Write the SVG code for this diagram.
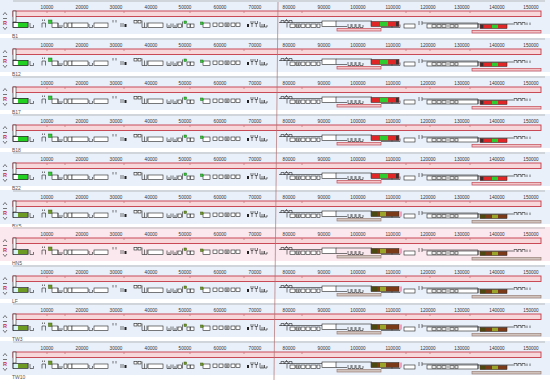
<svg xmlns="http://www.w3.org/2000/svg" xmlns:xlink="http://www.w3.org/1999/xlink" width="550" height="385" viewBox="0 0 550 385">
<style>
text{font-family:"Liberation Sans",Arial,sans-serif}
.tk{font-size:4.6px;fill:#333;text-anchor:middle}
.lb{font-size:5px;fill:#555}
.bx{fill:#fff;stroke:#222;stroke-width:0.6}
.ln{fill:none;stroke:#222;stroke-width:0.6}
.gbar{fill:#f7d7da;stroke:#c43a48;stroke-width:0.9}
.rul{stroke:#999;stroke-width:0.6}
.bgA{fill:#e9f0fa}
.bgB{fill:#fbe8ef}
.gA{fill:#2ecc2e;stroke:#1a6e1a;stroke-width:0.5}
.gB{fill:#6f9a22;stroke:#3f5a12;stroke-width:0.5}
.lowA{fill:#f2c4c8;stroke:#c44a55;stroke-width:0.7}
.lowB{fill:#d0c2bc;stroke:#9a8078;stroke-width:0.7}
.sp{stroke:#b03a44;stroke-width:0.5}
</style>
<defs>
<g id="common">
  <line class="rul" x1="13" y1="1" x2="545" y2="1"/>
  <g>
    <text class="tk" x="47" y="8.5">10000</text>
    <text class="tk" x="82" y="8.5">20000</text>
    <text class="tk" x="116" y="8.5">30000</text>
    <text class="tk" x="151" y="8.5">40000</text>
    <text class="tk" x="185" y="8.5">50000</text>
    <text class="tk" x="220" y="8.5">60000</text>
    <text class="tk" x="255" y="8.5">70000</text>
    <text class="tk" x="289" y="8.5">80000</text>
    <text class="tk" x="324" y="8.5">90000</text>
    <text class="tk" x="358" y="8.5">100000</text>
    <text class="tk" x="393" y="8.5">110000</text>
    <text class="tk" x="428" y="8.5">120000</text>
    <text class="tk" x="462" y="8.5">130000</text>
    <text class="tk" x="497" y="8.5">140000</text>
    <text class="tk" x="531" y="8.5">150000</text>
  </g>
  <rect class="gbar" x="13" y="11" width="528" height="5.5"/>
  <line class="sp" x1="47" y1="11.5" x2="47" y2="13"/>
  <line class="sp" x1="65" y1="11.5" x2="65" y2="13"/>
  <line class="sp" x1="124" y1="11.5" x2="124" y2="13"/>
  <line class="sp" x1="190" y1="11.5" x2="190" y2="13"/>
  <line class="sp" x1="244" y1="11.5" x2="244" y2="13"/>
  <line class="sp" x1="302" y1="11.5" x2="302" y2="13"/>
  <line class="sp" x1="406" y1="11.5" x2="406" y2="13"/>
  <line class="sp" x1="430" y1="11.5" x2="430" y2="13"/>
  <line class="sp" x1="470" y1="11.5" x2="470" y2="13"/>
  <path class="ln" d="M3,15 L5,12.5 L7,15" stroke="#555"/>
  <line x1="3" y1="18.5" x2="7" y2="18.5" stroke="#555" stroke-width="0.8"/>
  <text x="3" y="24.5" style="font-size:5.5px;fill:#c33;font-weight:bold">R</text>
  <path class="ln" d="M3,27 L5,29.5 L7,27" stroke="#555"/>
  <rect class="bx" x="13" y="11" width="3" height="11"/>
  <rect class="bx" x="13" y="22.5" width="15" height="5"/>
  <path class="ln" d="M30,23 V27.5 H33.5 V25"/>
  <path class="ln" d="M42,27.5 V23 H45.5 V27.5"/>
  <path class="ln" d="M42.5,21 V19.5 M44.5,21 V19.5"/>
  <rect class="bx" x="52" y="23" width="6" height="4.5"/>
  <path class="ln" d="M58,23 V27.5 H62 V25 M60,27.5 V25"/>
  <rect class="bx" x="64" y="23" width="3" height="4.5"/>
  <rect class="bx" x="68" y="23" width="4" height="4.5"/>
  <rect class="bx" x="72" y="23" width="16" height="4.5"/>
  <path class="ln" d="M89,27.5 V24 M89,27.5 H92.5 V25"/>
  <rect class="bx" x="94" y="23" width="14" height="4.5"/>
  <path class="ln" d="M113,20 V22.5 M116,20 V22.5 M121,23 V27 M123,23 V27"/>
  <rect x="124.5" y="24" width="2" height="3" fill="#222"/>
  <rect class="bx" x="134" y="20.5" width="3" height="2.5"/>
  <rect class="bx" x="138" y="20.5" width="3" height="2.5"/>
  <path class="ln" d="M142,20.5 V27.5 H147 V22.5 M144.5,27.5 V22.5"/>
  <rect class="bx" x="148" y="23" width="15" height="4.5"/>
  <path class="ln" d="M167,23.5 V27.5 H171 V23.5 M169,27.5 V25 M173,23.5 V27.5 H177 V23.5 M175,27.5 V25"/>
  <rect class="bx" x="178" y="24" width="3.5" height="3.5"/>
  <path class="ln" d="M182.5,21.5 V27.5"/>
  <rect class="bx" x="187" y="24" width="3" height="3.5"/>
  <rect class="bx" x="190.5" y="24" width="3.5" height="3.5"/>
  <rect class="bx" x="203" y="23" width="7" height="4.5"/>
  <rect class="bx" x="213" y="23" width="4" height="3.5"/>
  <rect class="bx" x="219" y="23" width="4" height="3.5"/>
  <rect class="bx" x="225" y="23" width="4" height="3.5"/>
  <path class="ln" d="M226.3,23.5 V26 M227.7,23.5 V26"/>
  <rect class="bx" x="231" y="23" width="4" height="3.5"/>
  <rect class="bx" x="236" y="23" width="4" height="3.5"/>
  <rect x="247" y="24" width="2" height="3" fill="#222"/>
  <path class="ln" d="M251,21 V23.5 H253 V21 M252,23.5 V27 M255,21 V23.5 H257.5 V21 M256.3,23.5 V27"/>
  <path class="ln" d="M260,22 V27 H264 V24 M262,27 V24 M264.5,24 V27 H267 V25"/>
  <path class="ln" d="M281,23 V20.5 H284 V23 M285,23 V20.5 H288 V23 M289,23 V20.5 H292 V23 M286.5,20.5 V19"/>
  <path class="ln" d="M279,22.5 H322"/>
  <path class="ln" d="M287,23 V27.5"/>
  <rect class="bx" x="290" y="24" width="5" height="3.5"/>
  <rect class="bx" x="296" y="24" width="4" height="3.5"/>
  <path class="ln" d="M297,24.5 V27 M298.5,24.5 V27"/>
  <rect class="bx" x="301" y="24" width="4" height="3.5"/>
  <rect class="bx" x="306" y="24" width="4" height="3.5"/>
  <rect class="bx" x="311" y="24" width="5" height="3.5"/>
  <rect class="bx" x="317" y="24" width="3" height="3.5"/>
  <rect class="bx" x="322" y="21" width="14" height="5.5"/>
  <path class="ln" d="M336,21 H372 M336,26.5 H347"/>
  <path class="ln" d="M348,24 V27.5 H351 V24 M352,24 V27.5 H355 V24 M356,24 V27.5 H359 V24 M360,24 V27.5 H363 V25"/>
  <path class="ln" d="M381,27.5 H400 V24.5 M392,27.5 V25"/>
  <rect class="bx" x="404" y="24" width="11" height="4"/>
  <path class="ln" d="M419,21 V25 M422,21 V25 M422,23 H478"/>
  <rect class="bx" x="427" y="24" width="51" height="4"/>
  <rect class="bx" x="432" y="24.8" width="4" height="2.4"/>
  <rect class="bx" x="437" y="24.8" width="4" height="2.4"/>
  <rect class="bx" x="442" y="24.8" width="4" height="2.4"/>
  <path class="ln" d="M447,26 H449"/>
  <rect class="bx" x="450" y="24.8" width="4" height="2.4"/>
  <rect class="bx" x="455" y="24.8" width="3" height="2.4"/>
  <path class="ln" d="M478,23 V28 M478,24 H513"/>
  <path class="ln" d="M514,25 V22.5 H517 V25 M518,25 V22.5 H521 V25 M522,25 V22.5 H525 V25 M527,22.5 V25 M530,22.5 V25"/>
</g>
<g id="colA">
  <rect x="18" y="22.5" width="10" height="5" fill="#22d022"/>
  <rect class="bx" x="13" y="22.5" width="15" height="5" style="fill:none"/>
  <rect class="gA" x="48.5" y="20" width="3.5" height="3.5"/>
  <rect class="gA" x="184" y="21" width="2.5" height="2.5"/>
  <rect class="gA" x="200.5" y="22" width="2.5" height="2.5"/>
  <rect class="lowA" x="337" y="28.5" width="44" height="2.5"/>
  <rect x="371" y="21.5" width="28" height="5" fill="#e02626" stroke="#222" stroke-width="0.5"/>
  <rect x="380" y="21.8" width="8" height="4.4" fill="#2ecc2e"/>
  <rect x="396" y="21.8" width="2.6" height="4.4" fill="#333"/>
  <rect class="lowA" x="472" y="30.5" width="69" height="2.5"/>
  <rect x="480" y="24.5" width="27" height="4" fill="#e02626" stroke="#222" stroke-width="0.5"/>
  <rect x="480.3" y="24.8" width="3" height="3.4" fill="#333"/>
  <rect x="492" y="24.8" width="6" height="3.4" fill="#2ecc2e"/>
</g>
<g id="colB">
  <rect x="14" y="22.5" width="14" height="5" fill="#d8f4f6"/>
  <rect x="18" y="23" width="10" height="4" fill="#6d9a22"/>
  <rect class="bx" x="13" y="22.5" width="15" height="5" style="fill:none"/>
  <rect class="gB" x="48.5" y="20" width="3.5" height="3.5"/>
  <rect class="gB" x="184" y="21" width="2.5" height="2.5"/>
  <rect class="gB" x="200.5" y="22" width="2.5" height="2.5"/>
  <rect class="lowB" x="337" y="28.5" width="44" height="2.5"/>
  <rect x="371" y="21.5" width="28" height="5" fill="#7a3a18" stroke="#222" stroke-width="0.5"/>
  <rect x="371.3" y="21.8" width="6" height="4.4" fill="#4a4a10"/>
  <rect x="380" y="21.8" width="6" height="4.4" fill="#9aa42a"/>
  <rect x="399" y="21.5" width="3" height="5" fill="#f0a0c0"/>
  <rect class="lowB" x="472" y="30.5" width="69" height="2.5"/>
  <rect x="480" y="24.5" width="27" height="4" fill="#7a3a18" stroke="#222" stroke-width="0.5"/>
  <rect x="480.3" y="24.8" width="5" height="3.4" fill="#4a4a10"/>
  <rect x="492" y="24.8" width="6" height="3.4" fill="#9aa42a"/>
</g>
</defs>
<rect width="550" height="385" fill="#fff"/>
<g id="panel-B1" transform="translate(0,0)"><rect class="bgA" x="0" y="0" width="550" height="34"/><use xlink:href="#common"/><use xlink:href="#colA"/><text class="lb" x="12" y="37.6">B1</text></g>
<g id="panel-B12" transform="translate(0,38)"><rect class="bgA" x="0" y="0" width="550" height="34"/><use xlink:href="#common"/><use xlink:href="#colA"/><text class="lb" x="12" y="37.6">B12</text></g>
<g id="panel-B17" transform="translate(0,76)"><rect class="bgA" x="0" y="0" width="550" height="34"/><use xlink:href="#common"/><use xlink:href="#colA"/><text class="lb" x="12" y="37.6">B17</text></g>
<g id="panel-B18" transform="translate(0,114)"><rect class="bgA" x="0" y="0" width="550" height="34"/><use xlink:href="#common"/><use xlink:href="#colA"/><text class="lb" x="12" y="37.6">B18</text></g>
<g id="panel-B22" transform="translate(0,152)"><rect class="bgA" x="0" y="0" width="550" height="34"/><use xlink:href="#common"/><use xlink:href="#colA"/><text class="lb" x="12" y="37.6">B22</text></g>
<g id="panel-BY5" transform="translate(0,190)"><rect class="bgA" x="0" y="0" width="550" height="34"/><use xlink:href="#common"/><use xlink:href="#colB"/><text class="lb" x="12" y="37.6">BY5</text></g>
<g id="panel-HN5" transform="translate(0,227)"><rect class="bgB" x="0" y="0" width="550" height="34"/><use xlink:href="#common"/><use xlink:href="#colB"/><text class="lb" x="12" y="37.6">HN5</text></g>
<g id="panel-LF" transform="translate(0,265)"><rect class="bgA" x="0" y="0" width="550" height="34"/><use xlink:href="#common"/><use xlink:href="#colB"/><text class="lb" x="12" y="37.6">LF</text></g>
<g id="panel-TW3" transform="translate(0,303)"><rect class="bgA" x="0" y="0" width="550" height="34"/><use xlink:href="#common"/><use xlink:href="#colB"/><text class="lb" x="12" y="37.6">TW3</text></g>
<g id="panel-TW10" transform="translate(0,341)"><rect class="bgA" x="0" y="0" width="550" height="34"/><use xlink:href="#common"/><use xlink:href="#colB"/><text class="lb" x="12" y="37.6">TW10</text></g>
<g id="connectors">
  <line x1="278" y1="2" x2="274" y2="380" stroke="#b07070" stroke-width="0.7"/>
</g>
</svg>
